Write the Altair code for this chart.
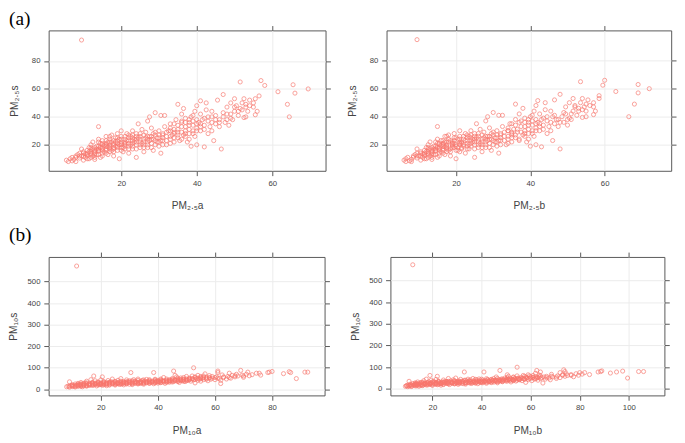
import altair as alt
import pandas as pd

# ---------------- PM2.5 (panel a) ----------------
pm25a = [
    5.5, 6, 6.5, 7, 7, 7.5, 8, 8, 8.5, 9,
    9, 9.5, 9.5, 10, 10, 10.5, 10.5, 11, 11, 11.5,
    11.5, 12, 12, 12, 12.5, 12.5, 13, 13, 13, 13.5,
    13.5, 14, 14, 14, 14.5, 14.5, 15, 15, 15, 15.5,
    16, 16, 16, 16.5, 16.5, 17, 17, 17, 17.5, 17.5,
    18, 18, 18, 18.5, 18.5, 19, 19, 19, 19.5, 19.5,
    20, 20, 20, 20, 20.5, 21, 21, 21, 21.5, 22,
    22, 22, 22.5, 23, 23, 23, 23.5, 24, 24, 24,
    24.5, 25, 25, 25, 25.5, 26, 26, 26, 26.5, 27,
    27, 27, 27.5, 27.5, 28, 28, 28.5, 28.5, 29, 29,
    29.5, 30, 30, 30, 30.5, 30.5, 31, 31, 31.5, 31.5,
    32, 32, 32.5, 33, 33, 33.5, 34, 34, 34.5, 35,
    35, 35, 35.5, 36, 36, 36.5, 36.5, 37, 37, 37.5,
    38, 38, 38.5, 38.5, 39, 39, 39.5, 39.5, 40, 40,
    40, 40.5, 41, 41, 41, 41.5, 42, 42, 42.5, 42.5,
    43, 43, 43.5, 44, 44, 44.5, 45, 45, 45.5, 46,
    46, 46.5, 47, 47, 47.5, 48, 48, 48.5, 49, 49,
    49.5, 50, 50, 50.5, 51, 51.5, 51.5, 52, 52.5, 52.5,
    53, 53, 53.5, 54, 55, 55.5, 55.5, 56.5, 57, 58,
    61.5, 64, 64.5, 65.5, 66, 69.5, 9.5, 14, 56, 44,
    12, 13, 14, 15, 16, 17, 18, 19, 20, 21,
    22, 23, 24, 25, 26, 27, 28, 29, 30, 31,
    10, 11, 12, 13, 14, 15, 16, 17, 18, 19,
    20, 21, 22, 23, 24, 25, 26, 27, 28, 29,
    32, 33, 34, 35, 36, 37, 38, 34, 33, 31,
    11, 12, 13, 14, 15, 16, 17, 18, 19, 20,
    11.5, 12.5, 13.5, 14.5, 15.5, 16.5, 17.5, 18.5, 19.5, 20.5,
    21.5, 22.5, 23.5, 24.5, 25.5, 26.5, 27.5, 28.5, 29.5, 30.5,
    21, 22, 23, 24, 25, 26, 27, 28, 29, 30,
    15, 16, 17, 18, 19, 20, 21, 22, 23, 24,
    8, 9, 10, 11, 12, 13, 14, 15, 16, 17,
    31, 32, 33, 34, 35, 36, 37, 38, 39, 40,
    36, 37, 38, 39, 40, 41, 42, 43, 44, 45,
    33, 34, 35, 36, 37, 38, 39, 40, 41, 42,
    46, 47, 48, 49, 50, 51, 52, 53, 54, 55,
]
pm25b = [
    6, 6.5, 6.5, 7.5, 7, 8, 8.5, 8, 9, 9.5,
    9.5, 10, 9.5, 10.5, 10.5, 11, 11, 11.5, 11.5, 12,
    12, 12.5, 12.5, 12.5, 13, 13, 13.5, 13.5, 13.5, 14,
    14, 14.5, 15, 14.5, 15, 15, 15.5, 15.5, 16, 16,
    16.5, 16.5, 17, 17, 17, 17.5, 18, 17.5, 18, 18,
    18.5, 19, 18.5, 19, 19.5, 19.5, 20, 19.5, 20, 20,
    20.5, 21, 21, 21, 21, 21.5, 22, 21.5, 22.5, 23,
    23, 22.5, 23.5, 24, 24, 23.5, 24.5, 25, 25, 25,
    25.5, 26, 26, 26, 26.5, 27, 27, 27, 27.5, 28,
    28, 28, 28.5, 28.5, 29, 29, 29.5, 29.5, 30, 30,
    30.5, 31, 31, 31, 31.5, 31.5, 32, 32, 32.5, 32.5,
    33, 33.5, 34, 34, 34.5, 35, 35, 35.5, 36, 36,
    36, 36.5, 37, 37.5, 37, 38, 38, 38.5, 38.5, 39,
    39.5, 39.5, 40, 40, 40.5, 40.5, 41, 41, 41.5, 41.5,
    41.5, 42, 42.5, 42.5, 42, 43, 43.5, 43, 44, 44,
    44.5, 44.5, 45, 45.5, 45.5, 46, 46.5, 46.5, 46.5, 47.5,
    47.5, 48, 48, 48.5, 49, 49.5, 49.5, 50, 50.5, 50.5,
    51, 51.5, 51.5, 52, 52.5, 53.5, 53, 53.5, 54, 54,
    55, 54.5, 55, 55.5, 57, 58.5, 57, 58.5, 60, 59.5,
    63, 68, 66.5, 69, 69, 72, 9.5, 15, 57.5, 45.5,
    12.5, 13.5, 14.5, 15.5, 16.5, 17.5, 18.5, 19.5, 21, 22,
    23, 24, 25, 26, 27, 28, 29, 30, 31, 32,
    10.5, 11.5, 12.5, 13.5, 14.5, 15.5, 16.5, 17.5, 18.5, 19.5,
    20.5, 21.5, 23, 24, 25, 26, 27, 28, 29, 30,
    33, 34, 35, 36, 37, 38.5, 39.5, 35, 34, 32,
    11.5, 12.5, 13.5, 14.5, 15.5, 16.5, 17.5, 19, 20, 21,
    12, 13, 14, 15, 16, 17, 18, 19, 20.5, 21.5,
    22.5, 23.5, 24.5, 25.5, 26.5, 27.5, 28.5, 29.5, 30.5, 31.5,
    22, 23, 24, 25, 26, 27, 28, 29, 30, 31,
    15.5, 16.5, 17.5, 19, 20, 21, 22, 23, 24, 25,
    8.5, 9.5, 10.5, 11.5, 12.5, 13.5, 14.5, 15.5, 16.5, 17.5,
    32, 33, 34, 35, 36.5, 37.5, 38.5, 39.5, 40.5, 41.5,
    37.5, 38.5, 39.5, 40.5, 41.5, 42.5, 43.5, 44.5, 46, 47,
    34, 35, 36, 37, 38.5, 39.5, 40.5, 41.5, 42.5, 43.5,
    48, 49, 50, 51, 52, 53, 54, 55, 56, 57,
]
pm25s = [
    9, 8, 10, 8.5, 11, 9.5, 12, 8, 13, 10.5,
    14, 12, 17, 9, 15, 11, 13.5, 16, 12, 18,
    10, 14, 20, 16.5, 12, 22, 15, 18, 9.5, 17,
    13, 19, 24, 15.5, 11, 21, 17, 14, 23, 19.5,
    16, 21, 26, 13, 18.5, 20, 24, 15, 22, 27,
    17, 21, 12, 19, 25, 23, 16, 28, 20, 10,
    18, 22, 26, 30, 15, 21, 24, 17, 28, 19,
    23, 14, 26, 21, 30, 17, 24, 20, 11, 28,
    35, 22, 18, 26, 31, 20, 24, 15, 29, 22,
    37, 18, 26, 40, 21, 32, 24, 16, 27, 43,
    22, 25, 19, 30, 41, 14, 23, 28, 33, 41,
    26, 20, 30, 24, 35, 27, 22, 31, 38, 25,
    49, 29, 23, 33, 42, 27, 46, 36, 30, 22,
    34, 28, 40, 19, 30, 37, 44, 26, 32, 48,
    20, 36, 30, 42, 51.5, 38, 34, 18.5, 45, 50,
    28, 40, 33, 36, 30, 23, 35, 41, 52, 33,
    38, 17, 56, 40, 36, 42, 47, 34, 39, 50,
    38, 44, 53, 48, 41, 65, 46, 50, 39.5, 53,
    40, 47, 44, 52, 47, 53, 41.5, 55, 66, 62.5,
    58, 49, 40, 63, 57, 60, 95, 33, 44, 44,
    11, 13, 17, 20, 19, 17, 23, 21, 20, 19,
    21, 23, 22, 24, 22, 24, 26, 23, 27, 25,
    12, 14, 13, 11, 13, 16, 14, 18, 15, 18,
    16, 22, 17, 19, 17, 20, 18, 20, 18, 20,
    23, 21, 25, 27, 24, 26, 24, 28, 30, 20,
    13, 15, 14, 16, 18, 17, 19, 20, 19, 21,
    15, 17, 19, 18, 15, 22, 16, 22, 24, 18,
    23, 20, 22, 25, 21, 25, 23, 28, 25, 23,
    26, 25, 27, 24, 28, 27, 26, 24, 29, 22,
    21, 23, 22, 18, 25, 24, 20, 27, 25, 26,
    11, 12, 14, 10, 18, 16, 22, 12, 20, 26,
    27, 29, 26, 29, 31, 29, 33, 31, 34, 35,
    37, 39, 36, 41, 38, 35, 39, 37, 40, 38,
    32, 35, 34, 36, 28, 38, 28, 30, 33, 31,
    36, 43, 38, 42, 47, 44, 45, 49, 48, 50,
]

# ---------------- PM10 (panel b) ----------------
pm10a = [
    8, 8.5, 9, 9, 9.5, 10, 10, 10.5, 11, 11,
    11.5, 11.5, 12, 12, 12.5, 13, 13, 13.5, 14, 14,
    14.5, 15, 15, 15.5, 16, 16, 16.5, 17, 17, 17.5,
    17.5, 18, 18, 18.5, 19, 19, 19.5, 20, 20, 20.5,
    20.5, 21, 21, 21.5, 22, 22, 22.5, 23, 23, 23.5,
    24, 24, 24.5, 25, 25, 25.5, 26, 26, 26.5, 27,
    27, 27.5, 28, 28, 28.5, 29, 29, 29.5, 30, 30,
    30.5, 30.5, 31, 31, 31.5, 32, 32, 32.5, 33, 33,
    33.5, 34, 34, 34.5, 35, 35, 35.5, 36, 36, 36.5,
    37, 37, 37.5, 38, 38.5, 38.5, 39, 39, 39.5, 40,
    40, 40.5, 41, 41, 41.5, 42, 42, 42.5, 43, 43.5,
    44, 44, 44.5, 45, 45.5, 45.5, 46, 46.5, 47, 47,
    47.5, 48, 48, 48.5, 49, 49.5, 50, 50, 50.5, 51,
    51.5, 52, 52, 52.5, 52.5, 53, 53, 53.5, 54, 54,
    54.5, 55, 55, 55.5, 56, 56, 57, 57.5, 58, 58.5,
    59, 60, 60.5, 61, 61, 61.5, 62, 62, 63, 64,
    64.5, 65, 65.5, 66, 67, 67.5, 68, 69, 69.5, 70,
    71, 71.5, 72, 73, 74.5, 75.5, 76, 78.5, 79, 80,
    84, 86, 86.5, 88.5, 91.5, 92.5, 62.5, 58, 56.5, 46,
    12, 13, 14, 15, 16, 17, 18, 19, 20, 21,
    22, 23, 24, 25, 26, 27, 28, 29, 30, 31,
    32, 33, 34, 35, 36, 37, 38, 39, 40, 41,
    42, 43, 44, 45, 46, 47, 48, 49, 50, 51,
    10, 12, 14, 16, 18, 20, 22, 24, 26, 28,
    9, 10, 11, 12, 13, 14, 15, 16, 17, 18,
    19, 20, 21, 22, 23, 24, 25, 26, 27, 28,
    29, 30, 31, 32, 33, 34, 35, 36, 37, 38,
    39, 40, 41, 42, 43, 44, 45, 46, 47, 48,
    49, 50, 51, 52, 53, 54, 55, 56, 57, 58,
    13, 15, 17, 19, 21, 23, 25, 27, 29, 31,
    11, 13, 15, 17, 19, 21, 23, 25, 27, 29,
    31, 33, 35, 37, 39, 41, 43, 45, 47, 49,
    33, 35, 37, 39, 41, 43, 45, 47, 49, 51,
    53, 55, 57, 59, 60, 61, 63, 65, 67, 70,
]
pm10b = [
    9, 9.5, 10, 10.5, 10, 10.5, 11, 11, 11.5, 12,
    12, 12.5, 13, 13, 13.5, 14, 14, 14.5, 15, 15.5,
    15.5, 16, 16.5, 16.5, 17, 17.5, 17.5, 18, 18.5, 19,
    19, 19.5, 19.5, 20, 20.5, 20.5, 21, 21.5, 21.5, 22,
    22, 23, 22.5, 23.5, 24, 23.5, 24.5, 25, 24.5, 25.5,
    26, 26.5, 26.5, 27, 27.5, 28, 28, 28.5, 29, 29.5,
    29.5, 30, 30.5, 30.5, 31, 31.5, 32, 32, 32.5, 33,
    33, 33.5, 34, 33.5, 34.5, 35, 35, 35.5, 36, 36.5,
    36.5, 37, 37.5, 38, 38, 38.5, 39, 39.5, 39, 40,
    40.5, 40.5, 41, 41.5, 41, 42, 42.5, 43, 43, 44,
    44, 44.5, 45, 45, 45.5, 46, 46, 46.5, 47, 47.5,
    48, 48.5, 49, 49.5, 47.5, 50, 50.5, 51, 51.5, 51.5,
    52, 52.5, 53, 53, 53.5, 54, 55, 54.5, 55.5, 56,
    56.5, 57, 57, 54.5, 57.5, 58, 58, 58.5, 59, 59,
    59.5, 60, 60.5, 61, 61.5, 61, 62.5, 63, 63.5, 64,
    64.5, 66, 66.5, 62.5, 64, 67.5, 65, 68, 69, 70.5,
    71, 72, 72, 73, 74, 74.5, 75, 73.5, 76.5, 77.5,
    78.5, 74, 79.5, 81, 80, 82, 84, 87.5, 88.5, 89,
    92.5, 97.5, 95, 99.5, 104, 106, 68.5, 63.5, 62, 50.5,
    13, 14, 15, 16, 17, 18, 19, 20.5, 21.5, 22.5,
    23.5, 25, 26, 27, 28, 29, 30.5, 31.5, 32.5, 33.5,
    35, 36, 37, 38, 39, 40, 41.5, 42.5, 43.5, 44.5,
    46, 47, 48, 49, 50, 51, 52.5, 53.5, 54.5, 55.5,
    11, 13, 15, 17, 19, 21.5, 23.5, 26, 28, 30,
    9.5, 10.5, 11.5, 12.5, 13.5, 14.5, 15.5, 17, 18, 19,
    20, 21.5, 22.5, 23.5, 24.5, 25.5, 26.5, 28, 29, 30,
    31, 32.5, 33.5, 34.5, 35.5, 37, 38, 39, 40, 41,
    42, 43, 44.5, 45.5, 46.5, 47.5, 48.5, 50, 51, 52,
    53, 54.5, 55.5, 56.5, 57.5, 58.5, 60, 61, 62, 63,
    13.5, 16, 18, 20, 22.5, 24.5, 26.5, 29, 31, 33.5,
    11.5, 13.5, 16, 18, 20, 22.5, 24.5, 26.5, 29, 31,
    33.5, 35.5, 37.5, 40, 42, 44, 46.5, 48.5, 50.5, 53,
    35.5, 37.5, 40, 42, 44, 46.5, 48.5, 50.5, 53, 55,
    57.5, 59.5, 62, 64, 65.5, 66.5, 68.5, 70.5, 73, 76.5,
]
pm10s = [
    12, 15, 10, 35, 18, 13, 22, 16, 11, 25,
    572, 19, 14, 28, 21, 17, 32, 12, 24, 19,
    30, 15, 38, 22, 27, 18, 45, 24, 33, 62,
    20, 29, 40, 16, 26, 35, 22, 30, 44, 58,
    19, 27, 36, 24, 32, 17, 41, 28, 22, 35,
    25, 48, 30, 20, 37, 27, 33, 42, 23, 30,
    50, 26, 36, 21, 31, 44, 27, 35, 24, 40,
    78, 30, 36, 22, 45, 28, 38, 33, 25, 48,
    31, 37, 27, 42, 33, 24, 38, 30, 46, 35,
    28, 41, 33, 38, 78, 26, 44, 32, 37, 29,
    42, 35, 48, 31, 39, 34, 55, 28, 42, 37,
    45, 33, 40, 50, 85, 36, 43, 58, 38, 47,
    32, 44, 53, 40, 48, 36, 45, 60, 42, 52,
    38, 48, 62, 100, 44, 55, 30, 50, 42, 65,
    48, 56, 38, 52, 45, 62, 50, 40, 55, 47,
    52, 45, 58, 85, 78, 50, 27, 42, 55, 48,
    60, 75, 52, 65, 58, 70, 62, 88, 66, 56,
    70, 80, 63, 68, 75, 75, 66, 78, 80, 83,
    73, 82, 78, 50, 80, 80, 67, 64, 72, 65,
    20, 23, 16, 26, 21, 28, 23, 30, 25, 31,
    26, 33, 28, 31, 26, 34, 29, 32, 35, 29,
    35, 30, 33, 36, 32, 37, 34, 40, 36, 38,
    40, 35, 38, 42, 40, 44, 41, 45, 40, 46,
    18, 24, 28, 24, 26, 22, 28, 34, 30, 33,
    14, 16, 18, 17, 20, 21, 19, 23, 22, 25,
    24, 27, 25, 23, 29, 27, 26, 29, 27, 30,
    29, 32, 31, 30, 34, 32, 30, 35, 34, 33,
    36, 34, 40, 37, 39, 41, 39, 44, 42, 46,
    43, 48, 44, 50, 46, 52, 49, 54, 47, 52,
    26, 30, 29, 32, 34, 31, 35, 38, 36, 40,
    13, 14, 17, 18, 20, 21, 20, 23, 24, 25,
    26, 27, 28, 29, 30, 32, 33, 34, 36, 38,
    42, 44, 45, 47, 44, 48, 46, 52, 55, 50,
    58, 60, 56, 60, 55, 52, 58, 55, 63, 62,
]

df25 = pd.DataFrame({"a": pm25a, "b": pm25b, "s": pm25s})
df10 = pd.DataFrame({"a": pm10a, "b": pm10b, "s": pm10s})

RED = "#F8766D"
FONT = "Liberation Sans"


def panel(df, xcol, xtitle, ytitle, xdom, ydom, xticks, yticks, w, h,
          label, show_label, label_y, ytp):
    xs = alt.Scale(domain=xdom, nice=False, zero=False)
    ys = alt.Scale(domain=ydom, nice=False, zero=False)
    pts = alt.Chart(df).mark_point(
        shape="circle", filled=False, color=RED, size=18, strokeWidth=1
    ).encode(
        x=alt.X(f"{xcol}:Q", scale=xs,
                axis=alt.Axis(values=xticks, title=xtitle, orient="bottom",
                              grid=True, titlePadding=14)),
        y=alt.Y("s:Q", scale=ys,
                axis=alt.Axis(values=yticks, title=ytitle, orient="left",
                              grid=True, titlePadding=ytp)),
    )
    ghost = alt.Chart(df).mark_point(opacity=0).encode(
        x=alt.X(f"{xcol}:Q", scale=xs,
                axis=alt.Axis(values=xticks, title=None, orient="top",
                              labels=False, grid=False)),
        y=alt.Y("s:Q", scale=ys,
                axis=alt.Axis(values=yticks, title=None, orient="right",
                              labels=False, grid=False)),
    )
    lab = alt.Chart(pd.DataFrame({"t": [label]})).mark_text(
        font="Liberation Serif", fontSize=20, align="left",
        baseline="top", color="black", opacity=1 if show_label else 0
    ).encode(x=alt.value(-41), y=alt.value(label_y), text="t:N")
    return alt.layer(pts, ghost, lab).resolve_axis(
        x="independent", y="independent"
    ).properties(width=w, height=h)


A = panel(df25, "a", "PM₂.₅a", "PM₂.₅s", [0.8, 74.1], [1.4, 101.9],
          [20, 40, 60], [20, 40, 60, 80], 286, 145, "(a)", True, -21.5, 12)
B = panel(df25, "b", "PM₂.₅b", "PM₂.₅s", [1.3, 77.9], [1.4, 101.6],
          [20, 40, 60], [20, 40, 60, 80], 294, 145, "(a)", False, -21.5, 12)
C = panel(df10, "a", "PM₁₀a", "PM₁₀s", [1.7, 98.4], [-28, 614],
          [20, 40, 60, 80], [0, 100, 200, 300, 400, 500], 285, 143,
          "(b)", True, -33, 9)
D = panel(df10, "b", "PM₁₀b", "PM₁₀s", [2.9, 114.5], [-30, 608],
          [20, 40, 60, 80, 100], [0, 100, 200, 300, 400, 500], 283, 143,
          "(b)", False, -33, 9)

row1 = alt.hconcat(A, B, spacing=15)
row2 = alt.hconcat(C, D, spacing=20)

chart = alt.vconcat(row1, row2, spacing=13).properties(
    padding={"left": 0, "top": -6, "right": 0, "bottom": 0}
).configure_view(
    stroke="#555555", strokeWidth=1
).configure_axis(
    labelFont=FONT, titleFont=FONT, labelFontSize=8, titleFontSize=10.5,
    labelColor="#444444", titleColor="#444444", titleFontWeight="normal",
    tickColor="#555555", tickSize=5, labelPadding=4, domain=False,
    gridColor="#ebebeb", gridWidth=1
)

chart.save("out.html", embed_options={"renderer": "svg", "actions": False})
